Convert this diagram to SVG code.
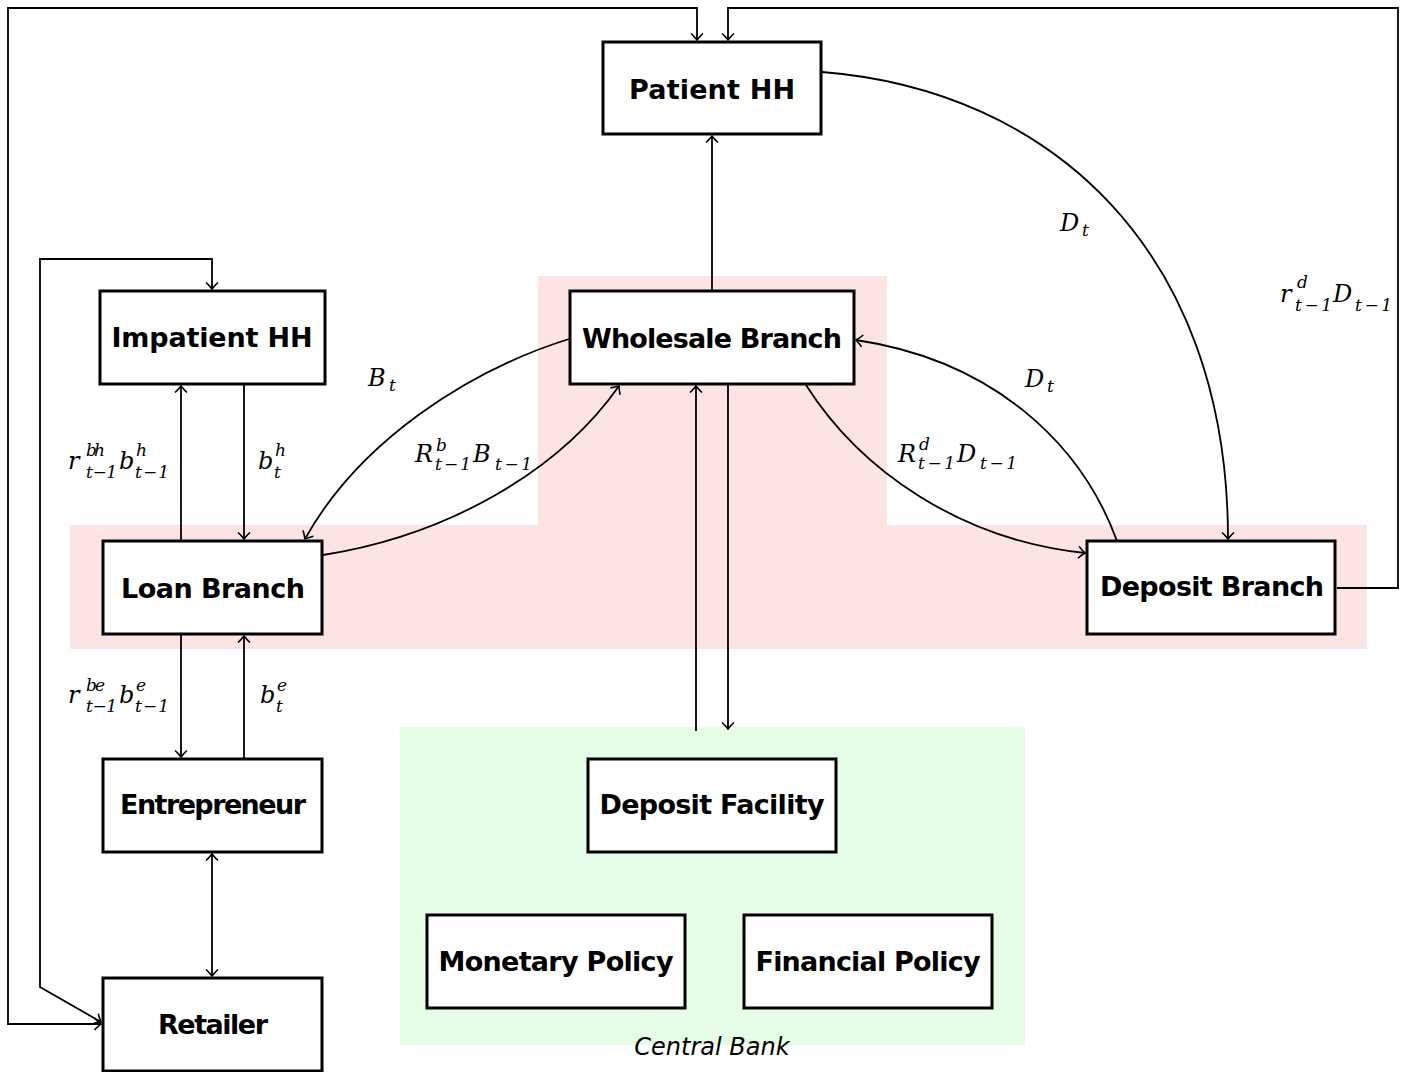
<svg xmlns="http://www.w3.org/2000/svg" width="1411" height="1072" viewBox="0 0 1411 1072">
<style>
.box{fill:#fff;stroke:#000;stroke-width:3}
.lbl{font-family:"DejaVu Sans","Liberation Sans",sans-serif;font-weight:bold;font-size:27px;text-anchor:middle;fill:#000}
.c{fill:none;stroke:#000;stroke-width:1.8}
.m{font-family:"DejaVu Serif","Liberation Serif",serif;font-style:italic;font-size:24px;fill:#000}
.s{font-size:17px}
.cb{font-family:"DejaVu Sans","Liberation Sans",sans-serif;font-style:italic;font-size:24px;text-anchor:middle;fill:#000}
</style>
<defs>
<marker id="arr" viewBox="-9 -8 11 16" refX="0" refY="0" markerWidth="11" markerHeight="16" markerUnits="userSpaceOnUse" orient="auto-start-reverse">
<path d="M -6.5 -6 C -4 -3, -1.2 -1, 0 0 C -1.2 1, -4 3, -6.5 6" fill="none" stroke="#000" stroke-width="1.6"/>
</marker>
</defs>
<rect width="1411" height="1072" fill="#fff"/>
<g id="backgrounds">
<path d="M 538 276 L 887 276 L 887 525 L 1367 525 L 1367 649 L 70 649 L 70 525 L 538 525 Z" fill="#fde4e4"/>
<rect x="400" y="727" width="625" height="318" fill="#e4fde4"/>
<text class="cb" x="712" y="1055">Central Bank</text>
</g>
<g id="connectors">
<path class="c" d="M 101 1024 L 8 1024 L 8 8 L 697 8 L 697 40" marker-start="url(#arr)" marker-end="url(#arr)"/>
<path class="c" d="M 1337 588 L 1398 588 L 1398 8 L 728 8 L 728 40" marker-end="url(#arr)"/>
<path class="c" d="M 101 1022 L 40 987 L 40 259 L 212 259 L 212 289" marker-start="url(#arr)" marker-end="url(#arr)"/>
<path class="c" d="M 712 290 L 712 136" marker-end="url(#arr)"/>
<path class="c" d="M 822 72 C 1050 90, 1228 250, 1228 539" marker-end="url(#arr)"/>
<path class="c" d="M 1117 541 C 1080 440, 990 360, 856 340" marker-end="url(#arr)"/>
<path class="c" d="M 806 385 C 860 470, 960 540, 1085 553" marker-end="url(#arr)"/>
<path class="c" d="M 569 339 C 470 370, 360 440, 305 539" marker-end="url(#arr)"/>
<path class="c" d="M 323 555 C 450 535, 560 470, 619 386" marker-end="url(#arr)"/>
<path class="c" d="M 181 540 L 181 386" marker-end="url(#arr)"/>
<path class="c" d="M 244 385 L 244 539" marker-end="url(#arr)"/>
<path class="c" d="M 181 635 L 181 757" marker-end="url(#arr)"/>
<path class="c" d="M 244 758 L 244 636" marker-end="url(#arr)"/>
<path class="c" d="M 212 854 L 212 976" marker-start="url(#arr)" marker-end="url(#arr)"/>
<path class="c" d="M 696 731 L 696 386" marker-end="url(#arr)"/>
<path class="c" d="M 728 385 L 728 729" marker-end="url(#arr)"/>
</g>
<g id="labels">
<text class="m"><tspan x="368" y="386">B</tspan><tspan class="s" x="389" y="391">t</tspan></text>
<text class="m"><tspan x="1060" y="231">D</tspan><tspan class="s" x="1082" y="236">t</tspan></text>
<text class="m"><tspan x="1025" y="387">D</tspan><tspan class="s" x="1047" y="392">t</tspan></text>
<text class="m"><tspan x="415" y="462">R</tspan><tspan class="s" x="436" y="451">b</tspan><tspan class="s" x="435" y="470" textLength="36">t−1</tspan><tspan x="473" y="462">B</tspan><tspan class="s" x="495" y="470" textLength="37">t−1</tspan></text>
<text class="m"><tspan x="898" y="462">R</tspan><tspan class="s" x="919" y="450">d</tspan><tspan class="s" x="918" y="469" textLength="37">t−1</tspan><tspan x="957" y="462">D</tspan><tspan class="s" x="980" y="469" textLength="37">t−1</tspan></text>
<text class="m"><tspan x="1280" y="302">r</tspan><tspan class="s" x="1297" y="288">d</tspan><tspan class="s" x="1295" y="311" textLength="37">t−1</tspan><tspan x="1333" y="302">D</tspan><tspan class="s" x="1355" y="311" textLength="37">t−1</tspan></text>
<text class="m"><tspan x="68" y="469">r</tspan><tspan class="s" x="86" y="456" textLength="19">bh</tspan><tspan class="s" x="86" y="478" textLength="31">t−1</tspan><tspan x="119" y="469">b</tspan><tspan class="s" x="136" y="456">h</tspan><tspan class="s" x="135" y="478" textLength="34">t−1</tspan></text>
<text class="m"><tspan x="258" y="469">b</tspan><tspan class="s" x="275" y="456">h</tspan><tspan class="s" x="274" y="478">t</tspan></text>
<text class="m"><tspan x="68" y="703">r</tspan><tspan class="s" x="86" y="691" textLength="19">be</tspan><tspan class="s" x="86" y="712" textLength="31">t−1</tspan><tspan x="119" y="703">b</tspan><tspan class="s" x="136" y="691">e</tspan><tspan class="s" x="135" y="712" textLength="34">t−1</tspan></text>
<text class="m"><tspan x="260" y="703">b</tspan><tspan class="s" x="277" y="691">e</tspan><tspan class="s" x="276" y="712">t</tspan></text>
</g>
<g id="patient-hh"><rect class="box" x="603" y="42" width="218" height="92"/><text class="lbl" x="712" y="99" textLength="166">Patient HH</text></g>
<g id="impatient-hh"><rect class="box" x="100" y="291" width="225" height="93"/><text class="lbl" x="212" y="347" textLength="201">Impatient HH</text></g>
<g id="wholesale-branch"><rect class="box" x="570" y="291" width="284" height="93"/><text class="lbl" x="712" y="348" textLength="260">Wholesale Branch</text></g>
<g id="loan-branch"><rect class="box" x="103" y="541" width="219" height="93"/><text class="lbl" x="213" y="598" textLength="184">Loan Branch</text></g>
<g id="deposit-branch"><rect class="box" x="1087" y="541" width="248" height="93"/><text class="lbl" x="1212" y="596" textLength="224">Deposit Branch</text></g>
<g id="entrepreneur"><rect class="box" x="103" y="759" width="219" height="93"/><text class="lbl" x="213" y="814" textLength="186">Entrepreneur</text></g>
<g id="retailer"><rect class="box" x="103" y="978" width="219" height="93"/><text class="lbl" x="213" y="1034" textLength="110">Retailer</text></g>
<g id="deposit-facility"><rect class="box" x="588" y="759" width="248" height="93"/><text class="lbl" x="712" y="814" textLength="225">Deposit Facility</text></g>
<g id="monetary-policy"><rect class="box" x="427" y="915" width="258" height="93"/><text class="lbl" x="556" y="971" textLength="235">Monetary Policy</text></g>
<g id="financial-policy"><rect class="box" x="744" y="915" width="248" height="93"/><text class="lbl" x="868" y="971" textLength="225">Financial Policy</text></g>
</svg>
